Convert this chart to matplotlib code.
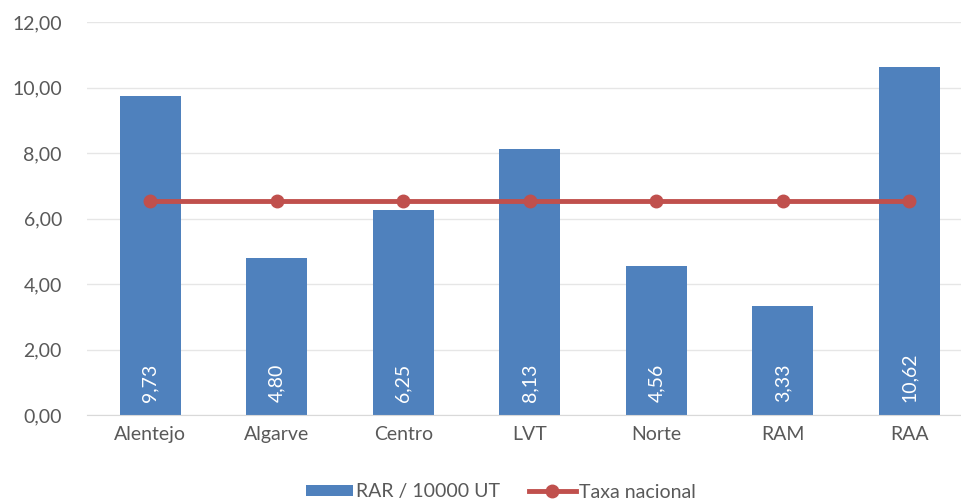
import numpy as np
import matplotlib.pyplot as plt

# Data
regions = ["Alentejo", "Algarve", "Centro", "LVT", "Norte", "RAM", "RAA"]
rar = [9.73, 4.80, 6.25, 8.13, 4.56, 3.33, 10.62]
taxa_nacional = [6.53] * len(regions)

bar_color = "#4F81BD"
line_color = "#C0504D"
text_color = "#595959"

plt.rcParams['font.family'] = ['Lato', 'DejaVu Sans']

fig = plt.figure(figsize=(9.62, 5.03), dpi=100)
ax = fig.add_axes([87 / 962, 88 / 503, 875 / 962, 393 / 503])

x = np.arange(len(regions))
bars = ax.bar(x, rar, width=0.48, color=bar_color, label="RAR / 10000 UT", zorder=2)
line, = ax.plot(x, taxa_nacional, color=line_color, lw=3.5, marker="o", ms=9,
                label="Taxa nacional", zorder=3)

for xi, v in zip(x, rar):
    ax.annotate(f"{v:.2f}".replace(".", ","), (xi, 0), xytext=(0, 13),
                textcoords="offset pixels", rotation=90, ha="center", va="bottom",
                color="white", fontsize=14)

ax.set_ylim(0, 12)
ax.set_xlim(-0.5, -0.5 + 875 / 126.5)
ax.set_yticks(np.arange(0, 13, 2))
ax.set_yticklabels([f"{t:.2f}".replace(".", ",") for t in np.arange(0, 13, 2)])
ax.set_xticks(x)
ax.set_xticklabels(regions)
ax.tick_params(axis="both", length=0, labelsize=14, colors=text_color, pad=8)
ax.tick_params(axis="y", pad=18)
ax.grid(axis="y", color="#E6E6E6", lw=1, zorder=0)
for s in ["top", "right", "left"]:
    ax.spines[s].set_visible(False)
ax.spines["bottom"].set_color("#D9D9D9")

fig.legend([bars, line], ["RAR / 10000 UT", "Taxa nacional"], loc="center",
           bbox_to_anchor=(501 / 962, 1 - 492 / 503), ncol=2,
           frameon=False, fontsize=14, labelcolor=text_color, columnspacing=1.5,
           handlelength=2.4, handleheight=0.55, handletextpad=0.15)

fig.savefig("out.png", dpi=100)
